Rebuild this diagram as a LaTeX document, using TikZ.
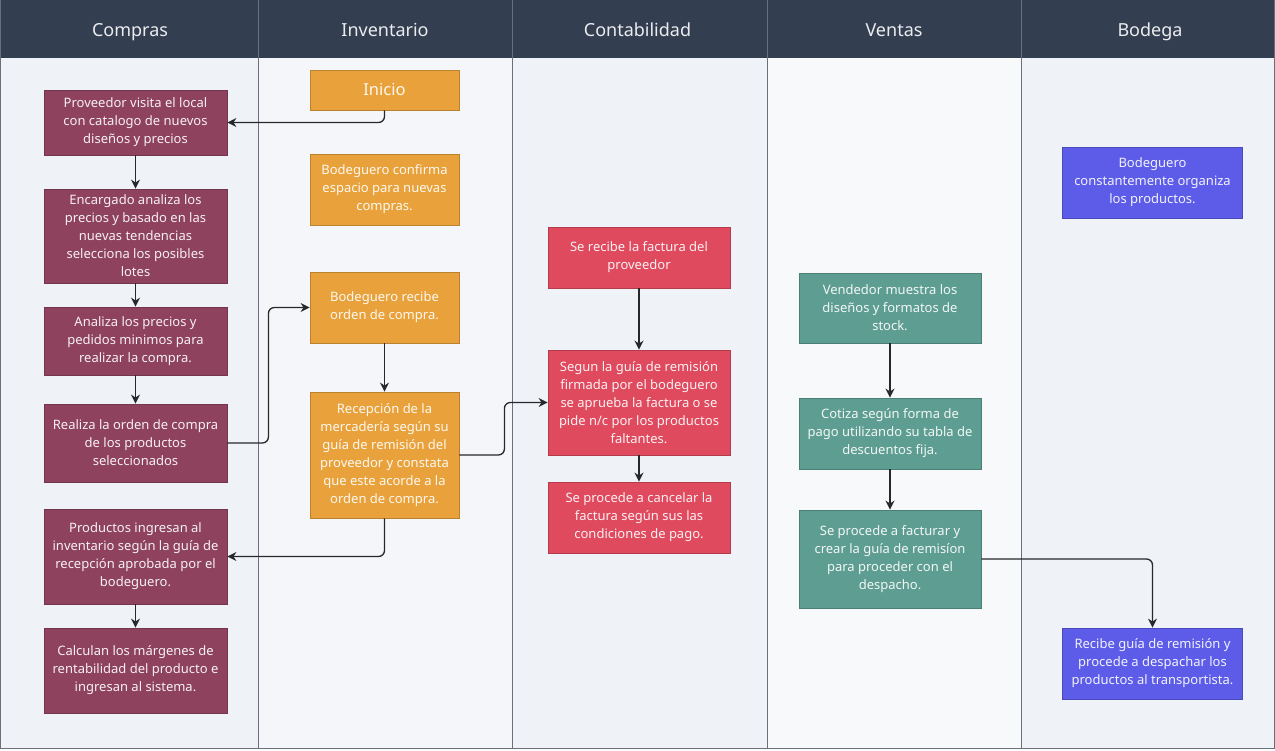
\documentclass[tikz,border=0pt]{standalone}
\usepackage{fontspec}
\setmainfont{Noto Sans}
\usetikzlibrary{arrows.meta}

\tikzset{
  lanehead/.style={text=white!90!headColor,font=\fontsize{18}{20}\selectfont,inner sep=0pt,anchor=base},
  stepbox/.style={draw=#1!80!black,line width=0.8pt,fill=#1,text=white!92!#1,align=center,inner sep=1pt,font=\fontsize{13}{18}\selectfont},
  flow/.style={draw=arrowColor,line width=1.3pt,rounded corners=6pt,-{Stealth[length=9pt,width=9pt]}}
}

\begin{document}
\begin{tikzpicture}[x=1pt,y=-1pt]
\definecolor{headColor}{RGB}{52,62,81}
\definecolor{laneColor}{RGB}{239,243,248}
\definecolor{laneColorB}{RGB}{244,246,250}
\definecolor{laneColorC}{RGB}{248,249,251}
\definecolor{ruleColor}{RGB}{105,112,124}
\definecolor{arrowColor}{RGB}{38,40,44}
\definecolor{comprasColor}{RGB}{142,66,94}
\definecolor{invColor}{RGB}{233,162,59}
\definecolor{contaColor}{RGB}{224,74,94}
\definecolor{ventasColor}{RGB}{94,158,146}
\definecolor{bodegaColor}{RGB}{92,92,232}
\path[use as bounding box,fill=white] (0,0) rectangle (1275,751);

\path[fill=laneColor] (   0, 58) rectangle ( 258,748);
\path[fill=laneColorB] ( 258, 58) rectangle ( 512,748);
\path[fill=laneColor] ( 512, 58) rectangle ( 767,748);
\path[fill=laneColorC] ( 767, 58) rectangle (1021,748);
\path[fill=laneColor] (1021, 58) rectangle (1275,748);
\path[fill=headColor] (0,0) rectangle (1275,58);
\foreach \x in {258,512,767,1021}
  \draw[ruleColor,line width=1pt] (\x,0) -- (\x,748);
\draw[ruleColor,line width=1pt] (0.5,0) rectangle (1274.5,748);

\node[lanehead] (hCompras) at ( 130, 37) {Compras};
\node[lanehead] (hInv) at ( 385, 37) {Inventario};
\node[lanehead] (hConta) at ( 637.5, 37) {Contabilidad};
\node[lanehead] (hVentas) at ( 894, 37) {Ventas};
\node[lanehead] (hBodega) at (1150, 37) {Bodega};

\node[stepbox=comprasColor,minimum width=183pt,minimum height=65pt] (proveedor) at (135.5,122.5) {Proveedor visita el local\\con catalogo de nuevos\\diseños y precios};
\node[stepbox=comprasColor,minimum width=183pt,minimum height=94pt] (encargado) at (135.5,236.0) {Encargado analiza los\\precios y basado en las\\nuevas tendencias\\selecciona los posibles\\lotes};
\node[stepbox=comprasColor,minimum width=183pt,minimum height=68pt] (analiza) at (135.5,341.0) {Analiza los precios y\\pedidos minimos para\\realizar la compra.};
\node[stepbox=comprasColor,minimum width=183pt,minimum height=78pt] (orden) at (135.5,443.0) {Realiza la orden de compra\\de los productos\\seleccionados};
\node[stepbox=comprasColor,minimum width=183pt,minimum height=95pt] (ingreso) at (135.5,556.5) {Productos ingresan al\\inventario según la guía de\\recepción aprobada por el\\bodeguero.};
\node[stepbox=comprasColor,minimum width=183pt,minimum height=85pt] (margenes) at (135.5,670.5) {Calculan los márgenes de\\rentabilidad del producto e\\ingresan al sistema.};

\node[stepbox=invColor,minimum width=149pt,minimum height=40pt,font=\fontsize{16.5}{18}\selectfont] (inicio) at (384.5, 90.0) {Inicio};
\node[stepbox=invColor,minimum width=149pt,minimum height=71pt] (espacio) at (384.5,189.5) {Bodeguero confirma\\espacio para nuevas\\compras.};
\node[stepbox=invColor,minimum width=149pt,minimum height=71pt] (recibeOrden) at (384.5,307.5) {Bodeguero recibe\\orden de compra.};
\node[stepbox=invColor,minimum width=149pt,minimum height=126pt] (recepcion) at (384.5,455.0) {Recepción de la\\mercadería según su\\guía de remisión del\\proveedor y constata\\que este acorde a la\\orden de compra.};

\node[stepbox=contaColor,minimum width=182pt,minimum height=61pt] (factura) at (639.0,257.5) {Se recibe la factura del\\proveedor};
\node[stepbox=contaColor,minimum width=182pt,minimum height=105pt] (aprueba) at (639.0,402.5) {Segun la guía de remisión\\firmada por el bodeguero\\se aprueba la factura o se\\pide n/c por los productos\\faltantes.};
\node[stepbox=contaColor,minimum width=182pt,minimum height=71pt] (cancela) at (639.0,517.5) {Se procede a cancelar la\\factura según sus las\\condiciones de pago.};

\node[stepbox=ventasColor,minimum width=182pt,minimum height=70pt] (muestra) at (890.0,308.0) {Vendedor muestra los\\diseños y formatos de\\stock.};
\node[stepbox=ventasColor,minimum width=182pt,minimum height=71pt] (cotiza) at (890.0,433.5) {Cotiza según forma de\\pago utilizando su tabla de\\descuentos fija.};
\node[stepbox=ventasColor,minimum width=182pt,minimum height=98pt] (facturar) at (890.0,559.0) {Se procede a facturar y\\crear la guía de remisíon\\para proceder con el\\despacho.};

\node[stepbox=bodegaColor,minimum width=180pt,minimum height=71pt] (organiza) at (1152.5,182.5) {Bodeguero\\constantemente organiza\\los productos.};
\node[stepbox=bodegaColor,minimum width=180pt,minimum height=71pt] (despacho) at (1152.5,663.5) {Recibe guía de remisión y\\procede a despachar los\\productos al transportista.};

\draw[flow] (inicio.south) |- (proveedor.east);
\draw[flow] (proveedor) -- (encargado);
\draw[flow] (encargado) -- (analiza);
\draw[flow] (analiza) -- (orden);
\draw[flow] (orden.east) -- ([xshift=41pt]orden.east) |- (recibeOrden.west);
\draw[flow] (recibeOrden) -- (recepcion);
\draw[flow] (recepcion.south) |- (ingreso.east);
\draw[flow] (ingreso) -- (margenes);
\draw[flow] (recepcion.east) -- ([xshift=45pt]recepcion.east) |- (aprueba.west);
\draw[flow] (factura) -- (aprueba);
\draw[flow] (aprueba) -- (cancela);
\draw[flow] (muestra) -- (cotiza);
\draw[flow] (cotiza) -- (facturar);
\draw[flow] (facturar.east) -| (despacho.north);
\end{tikzpicture}
\end{document}
